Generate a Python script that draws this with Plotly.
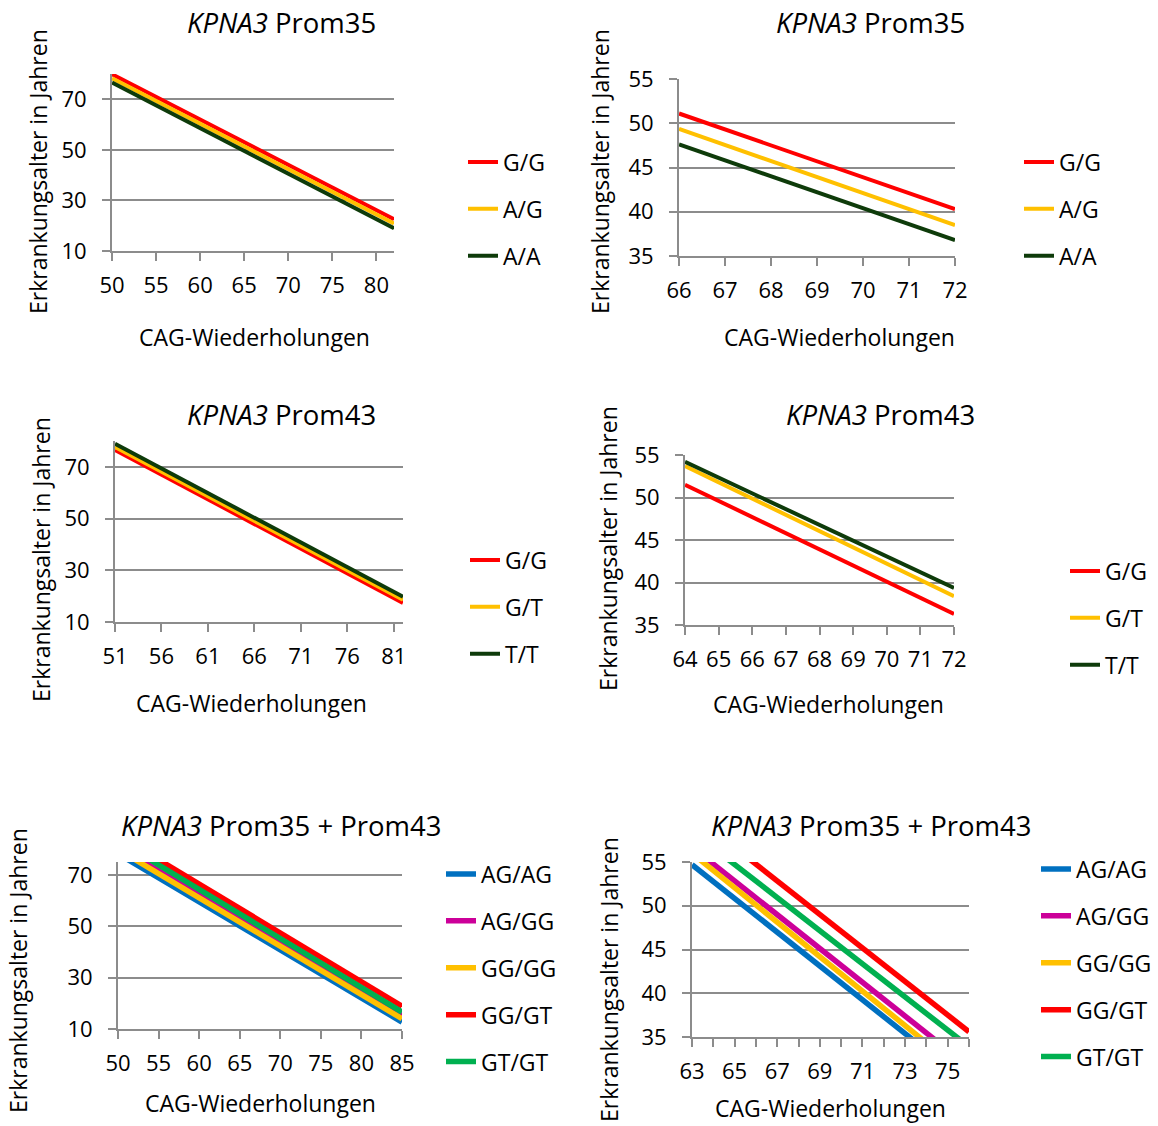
import plotly.graph_objects as go

W, H = 1158, 1126
FONT = "Open Sans"

# ---------------- data ----------------
p1_cag = [50, 82]
p1_GG = [79.9, 22.6]
p1_AG = [78.3, 20.9]
p1_AA = [76.6, 19.0]

p2_cag = [66, 72]
p2_GG = [51.1, 40.3]
p2_AG = [49.35, 38.5]
p2_AA = [47.6, 36.8]

p3_cag = [51, 82]
p3_GG = [76.5, 17.4]
p3_GT = [77.7, 18.6]
p3_TT = [78.9, 19.8]

p4_cag = [64, 72]
p4_GG = [51.5, 36.3]
p4_GT = [53.7, 38.4]
p4_TT = [54.2, 39.35]

p5_cag = [50, 85]
p5_AGAG = [78.2, 12.7]
p5_AGGG = [81.0, 15.2]
p5_GGGG = [79.9, 14.0]
p5_GGGT = [85.4, 18.9]
p5_GTGT = [83.4, 16.6]

p6_cag = [63, 76]
p6_AGAG = [54.7, 29.6]
p6_AGGG = [56.7, 31.6]
p6_GGGG = [56.0, 30.4]
p6_GGGT = [60.5, 35.6]
p6_GTGT = [58.5, 33.9]

title_35 = "<i>KPNA3</i> Prom35"
title_43 = "<i>KPNA3</i> Prom43"
title_both = "<i>KPNA3</i> Prom35 + Prom43"
y_title = "Erkrankungsalter in Jahren"
x_title = "CAG-Wiederholungen"

RED = "#FF0000"
GOLD = "#FFC000"
DKGREEN = "#0E3B0A"
BLUE = "#0070C0"
MAG = "#CC0099"
GREEN = "#00B050"
GRID = "#8C8C8C"

series = [
    (1, p1_cag, [("G/G", p1_GG, RED), ("A/G", p1_AG, GOLD), ("A/A", p1_AA, DKGREEN)], 4),
    (2, p2_cag, [("G/G", p2_GG, RED), ("A/G", p2_AG, GOLD), ("A/A", p2_AA, DKGREEN)], 4),
    (3, p3_cag, [("G/G", p3_GG, RED), ("G/T", p3_GT, GOLD), ("T/T", p3_TT, DKGREEN)], 4),
    (4, p4_cag, [("G/G", p4_GG, RED), ("G/T", p4_GT, GOLD), ("T/T", p4_TT, DKGREEN)], 4),
    (5, p5_cag, [("AG/AG", p5_AGAG, BLUE), ("AG/GG", p5_AGGG, MAG), ("GG/GG", p5_GGGG, GOLD),
                 ("GG/GT", p5_GGGT, RED), ("GT/GT", p5_GTGT, GREEN)], 5.5),
    (6, p6_cag, [("AG/AG", p6_AGAG, BLUE), ("AG/GG", p6_AGGG, MAG), ("GG/GG", p6_GGGG, GOLD),
                 ("GG/GT", p6_GGGT, RED), ("GT/GT", p6_GTGT, GREEN)], 5.5),
]

# layout geometry in pixels: plot area (left, right, top, bottom), axis ranges/ticks
geom = {
    1: dict(px=(112, 394), py=(74, 251), xr=[50, 82], x0=50, dx=5, yr=[10, 80], y0=10, dy=20,
            title=(title_35, 281, 22), yt=(38, 172), xt=(254, 337), leg=(505, 209)),
    2: dict(px=(679, 955), py=(79, 256), xr=[66, 72], x0=66, dx=1, yr=[35, 55], y0=35, dy=5,
            title=(title_35, 870, 22), yt=(600, 172), xt=(839, 337), leg=(1061, 209)),
    3: dict(px=(115, 403), py=(441, 622), xr=[51, 82], x0=51, dx=5, yr=[10, 80], y0=10, dy=20,
            title=(title_43, 281, 414), yt=(41, 560), xt=(251, 703), leg=(507, 607)),
    4: dict(px=(685, 954), py=(455, 625), xr=[64, 72], x0=64, dx=1, yr=[35, 55], y0=35, dy=5,
            title=(title_43, 880, 414), yt=(608, 549), xt=(828, 704), leg=(1107, 618)),
    5: dict(px=(118, 402), py=(862, 1029), xr=[50, 85], x0=50, dx=5, yr=[10, 75], y0=10, dy=20,
            title=(title_both, 281, 825), yt=(18, 971), xt=(260, 1103), leg=(483, 968)),
    6: dict(px=(692, 969), py=(862, 1037), xr=[63, 76], x0=63, dx=2, yr=[35, 55], y0=35, dy=5,
            title=(title_both, 871, 825), yt=(609, 980), xt=(830, 1108), leg=(1078, 963)),
}

fig = go.Figure()
layout = dict(width=W, height=H, margin=dict(l=0, r=0, t=0, b=0, autoexpand=False),
              paper_bgcolor="white", plot_bgcolor="white",
              font=dict(family=FONT, color="black"), annotations=[])

for idx, xs, lines, lw in series:
    sfx = "" if idx == 1 else str(idx)
    for name, ys, col in lines:
        fig.add_trace(go.Scatter(
            x=xs, y=ys, mode="lines", name=name,
            line=dict(color=col, width=lw),
            xaxis="x" + sfx, yaxis="y" + sfx,
            legend="legend" + sfx, legendgroup=f"p{idx}_{name}",
        ))

for idx, g in geom.items():
    sfx = "" if idx == 1 else str(idx)
    axis_common = dict(showline=True, linecolor=GRID, linewidth=2, ticks="outside",
                       ticklen=8, tickwidth=2, tickcolor=GRID, zeroline=False,
                       automargin=False,
                       tickfont=dict(size=22, family=FONT, color="black"))
    xa = dict(axis_common, domain=[g["px"][0] / W, g["px"][1] / W], range=g["xr"],
              anchor="y" + sfx, showgrid=False, tick0=g["x0"], dtick=g["dx"],
              ticklabelstandoff=6)
    if idx == 6:
        xa["minor"] = dict(dtick=1, tick0=63, ticks="outside", ticklen=8, tickwidth=2,
                           tickcolor=GRID, showgrid=False)
    ya = dict(axis_common, domain=[1 - g["py"][1] / H, 1 - g["py"][0] / H], range=g["yr"],
              anchor="x" + sfx, showgrid=True, gridcolor=GRID, gridwidth=2,
              tick0=g["y0"], dtick=g["dy"], ticklabelstandoff=11)
    layout["xaxis" + sfx] = xa
    layout["yaxis" + sfx] = ya

    t, tx, ty = g["title"]
    layout["annotations"].append(dict(text=t, x=tx / W, y=1 - ty / H, xref="paper", yref="paper",
                                      xanchor="center", yanchor="middle", showarrow=False,
                                      font=dict(size=27.5, family=FONT, color="black")))
    layout["annotations"].append(dict(text=y_title, x=g["yt"][0] / W, y=1 - g["yt"][1] / H,
                                      xref="paper", yref="paper", textangle=-90,
                                      xanchor="center", yanchor="middle", showarrow=False,
                                      font=dict(size=23, family=FONT, color="black")))
    layout["annotations"].append(dict(text=x_title, x=g["xt"][0] / W, y=1 - g["xt"][1] / H,
                                      xref="paper", yref="paper",
                                      xanchor="center", yanchor="middle", showarrow=False,
                                      font=dict(size=23, family=FONT, color="black")))
    layout["legend" + sfx] = dict(x=(g["leg"][0] - 42) / W, y=1 - g["leg"][1] / H,
                                  xanchor="left", yanchor="middle", bgcolor="rgba(0,0,0,0)",
                                  traceorder="grouped", tracegroupgap=14,
                                  font=dict(size=23, family=FONT, color="black"))

fig.update_layout(**layout)
fig.write_html("out.html")
